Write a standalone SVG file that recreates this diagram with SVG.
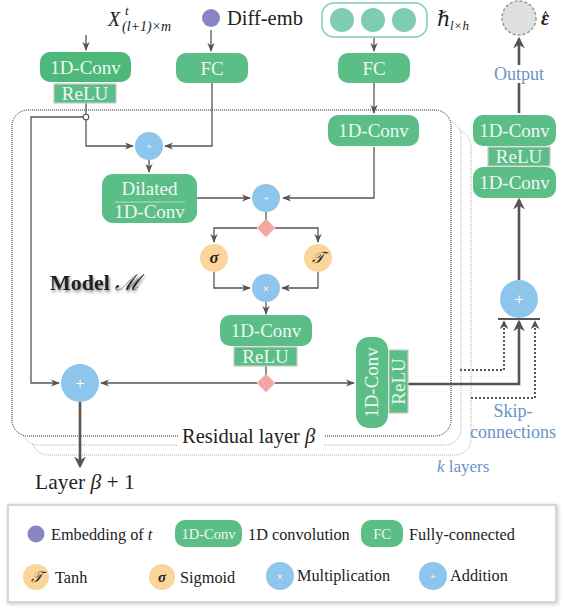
<svg xmlns="http://www.w3.org/2000/svg" width="563" height="611" viewBox="0 0 563 611">
<defs>
<style>
.t{font-family:"Liberation Serif","DejaVu Serif",serif;fill:#222}
.bt{font-family:"Liberation Serif","DejaVu Serif",serif;fill:#eef8f1;font-size:19px;text-anchor:middle}
.bl{font-family:"Liberation Serif","DejaVu Serif",serif;fill:#6a93c8}
.box{fill:#5bbe87}
.box2{fill:#4cb87a}
.relu{fill:#5bbe87;stroke:#c8c8c8;stroke-width:1.2}
.add{fill:#8ec5ec}
.act{fill:#fcd59a}
.dia{fill:#f4a6a3}
.c{fill:none;stroke:#555;stroke-width:1.3}
.ck{fill:none;stroke:#555;stroke-width:2.6}
.cd{fill:none;stroke:#555;stroke-width:2;stroke-dasharray:2,2}
.fr{fill:#fff;stroke:#aaa;stroke-width:1;stroke-dasharray:1,1}
.fr1{fill:#fff;stroke:#222;stroke-width:1;stroke-dasharray:1,1}
.sym{font-family:"Liberation Serif","DejaVu Serif",serif;fill:#fff;text-anchor:middle}
</style>
<marker id="a" viewBox="0 0 10 10" refX="9" refY="5" markerWidth="7" markerHeight="7" orient="auto-start-reverse"><path d="M0,1 L10,5 L0,9 L3,5 z" fill="#555"/></marker>
<marker id="ak" viewBox="0 0 10 10" refX="8" refY="5" markerWidth="4.5" markerHeight="4.5" orient="auto-start-reverse"><path d="M0,0 L10,5 L0,10 L3,5 z" fill="#555"/></marker>
<filter id="sh" x="-10%" y="-30%" width="120%" height="160%"><feGaussianBlur in="SourceAlpha" stdDeviation="1.5"/><feOffset dx="1" dy="2"/><feComponentTransfer><feFuncA type="linear" slope="0.5"/></feComponentTransfer><feMerge><feMergeNode/><feMergeNode in="SourceGraphic"/></feMerge></filter>
<filter id="lsh" x="-5%" y="-10%" width="110%" height="120%"><feGaussianBlur in="SourceAlpha" stdDeviation="2"/><feOffset dx="1" dy="1"/><feComponentTransfer><feFuncA type="linear" slope="0.25"/></feComponentTransfer><feMerge><feMergeNode/><feMergeNode in="SourceGraphic"/></feMerge></filter>
</defs>
<rect width="563" height="611" fill="#fff"/>

<!-- residual layer frames -->
<g id="frames">
<rect class="fr" x="32" y="130" width="439" height="325" rx="16"/>
<rect class="fr" x="22" y="120" width="439" height="325" rx="16"/>
<rect class="fr1" x="12" y="110" width="439" height="326" rx="16"/>
<rect x="178" y="424" width="146" height="22" fill="#fff"/>
<text class="t" x="182" y="443" font-size="20.5">Residual layer <tspan font-style="italic">β</tspan></text>
<text class="bl" x="437" y="472" font-size="17"><tspan font-style="italic">k</tspan> layers</text>
</g>

<!-- connectors -->
<g id="connectors">
<line class="c" x1="86" y1="35" x2="86" y2="50" marker-end="url(#a)"/>
<line class="c" x1="211" y1="30" x2="211" y2="51" marker-end="url(#a)"/>
<line class="c" x1="374" y1="38" x2="374" y2="51" marker-end="url(#a)"/>
<polyline class="c" points="86,103 86,146 133,146" marker-end="url(#a)"/>
<polyline class="c" points="86,117 31,117 31,383 59,383" marker-end="url(#a)"/>
<polyline class="c" points="212,83 212,146 165,146" marker-end="url(#a)"/>
<line class="c" x1="374" y1="83" x2="374" y2="113" marker-end="url(#a)"/>
<line class="c" x1="149" y1="160" x2="149" y2="172" marker-end="url(#a)"/>
<line class="c" x1="197" y1="198" x2="250" y2="198" marker-end="url(#a)"/>
<polyline class="c" points="374,147 374,198 283,198" marker-end="url(#a)"/>
<line class="c" x1="266" y1="212" x2="266" y2="220"/>
<polyline class="c" points="257,228 214,228 214,242" marker-end="url(#a)"/>
<polyline class="c" points="275,228 318,228 318,242" marker-end="url(#a)"/>
<polyline class="c" points="214,272 214,288 250,288" marker-end="url(#a)"/>
<polyline class="c" points="318,272 318,288 282,288" marker-end="url(#a)"/>
<line class="c" x1="266" y1="302" x2="266" y2="314" marker-end="url(#a)"/>
<line class="c" x1="266" y1="366" x2="266" y2="375"/>
<line class="c" x1="257" y1="383" x2="101" y2="383" marker-end="url(#a)"/>
<line class="c" x1="275" y1="383" x2="354" y2="383" marker-end="url(#a)"/>
<line class="ck" x1="80" y1="402" x2="80" y2="466" marker-end="url(#ak)"/>
<polyline class="ck" points="408,384 519,384 519,322" marker-end="url(#ak)"/>
<polyline class="cd" points="460,370 504,370 504,322" marker-end="url(#ak)"/>
<polyline class="cd" points="471,398 535,398 535,322" marker-end="url(#ak)"/>
<line x1="498" y1="319" x2="540" y2="319" stroke="#555" stroke-width="2"/>
<line class="ck" x1="519" y1="280" x2="519" y2="200" marker-end="url(#ak)"/>
<line class="ck" x1="519" y1="113" x2="519" y2="39" marker-end="url(#ak)"/>
<circle cx="86" cy="117" r="2.8" fill="#fff" stroke="#555" stroke-width="1.1"/>
</g>

<!-- inputs -->
<g id="input-x">
<text class="t" x="108" y="26" font-size="20" font-style="italic">X</text>
<text class="t" x="125" y="15" font-size="13" font-style="italic">t</text>
<text class="t" x="122" y="31" font-size="14" font-style="italic">(l+1)×m</text>
</g>
<g id="diff-emb">
<circle cx="211" cy="18" r="9" fill="#8985c5"/>
<text class="t" x="227" y="25" font-size="20.5">Diff-emb</text>
</g>
<g id="hidden">
<rect x="322" y="3" width="105" height="34" rx="12" fill="#fff" stroke="#80ccba" stroke-width="1.5"/>
<circle cx="342" cy="20" r="12" fill="#7fccb4"/>
<circle cx="373" cy="20" r="12" fill="#7fccb4"/>
<circle cx="404" cy="20" r="12" fill="#7fccb4"/>
<text class="t" x="437" y="26" font-size="21" font-style="italic">ℏ</text>
<text class="t" x="450" y="30" font-size="13" font-style="italic">l×h</text>
</g>
<g id="output">
<circle cx="519" cy="18" r="17" fill="#e0e0e0" stroke="#999" stroke-width="1.5" stroke-dasharray="3,2"/>
<text class="t" x="541" y="25" font-size="20" font-weight="bold" font-style="italic">ε<tspan dx="-7.5" dy="-6" font-size="13" font-style="normal">^</tspan></text>
<rect x="508" y="65" width="22" height="18" fill="#fff"/>
<text class="bl" x="519" y="80" font-size="18" text-anchor="middle">Output</text>
</g>

<!-- top boxes -->
<g id="conv-in">
<rect class="box2" x="40" y="52" width="91" height="30" rx="10"/>
<text class="bt" x="85.5" y="74">1D-Conv</text>
<rect class="relu" x="54" y="84" width="62" height="19"/>
<text class="bt" x="85" y="100">ReLU</text>
</g>
<g id="fc-emb">
<rect class="box" x="176" y="53" width="72" height="30" rx="10"/>
<text class="bt" x="212" y="75">FC</text>
</g>
<g id="fc-h">
<rect class="box" x="338" y="53" width="72" height="30" rx="10"/>
<text class="bt" x="374" y="75">FC</text>
</g>
<g id="conv-h">
<rect class="box" x="328" y="115" width="91" height="31" rx="10"/>
<text class="bt" x="373.5" y="137">1D-Conv</text>
</g>

<g id="add1"><circle class="add" cx="149" cy="146" r="14"/><text class="sym" x="149" y="150" font-size="11">+</text></g>
<g id="dilated">
<rect class="box" x="102" y="174" width="95" height="49" rx="11"/>
<text class="bt" x="149.5" y="195">Dilated</text>
<line x1="115" y1="202" x2="185" y2="202" stroke="#c9ead5" stroke-width="0.8"/>
<text class="bt" x="149.5" y="218">1D-Conv</text>
</g>
<g id="add2"><circle class="add" cx="266" cy="198" r="14"/><text class="sym" x="266" y="202" font-size="11">+</text></g>
<g id="split1"><rect class="dia" x="259.5" y="221.5" width="13" height="13" transform="rotate(45 266 228)"/></g>
<g id="sigmoid"><circle class="act" cx="214" cy="258" r="14"/><text x="214" y="263" font-size="17" font-weight="bold" font-style="italic" text-anchor="middle" class="t">σ</text></g>
<g id="tanh"><circle class="act" cx="318" cy="258" r="14"/><text x="318" y="263" font-size="16" font-style="italic" text-anchor="middle" class="t">𝒯</text></g>
<g id="mul"><circle class="add" cx="266" cy="288" r="14"/><text class="sym" x="266" y="292.5" font-size="13">×</text></g>
<g id="conv-mid">
<rect class="box" x="220" y="315" width="92" height="31" rx="10"/>
<text class="bt" x="266" y="337">1D-Conv</text>
<rect class="relu" x="234" y="347" width="63" height="19"/>
<text class="bt" x="265.5" y="363">ReLU</text>
</g>
<g id="split2"><rect class="dia" x="259.5" y="376.5" width="13" height="13" transform="rotate(45 266 383)"/></g>
<g id="add-res"><circle class="add" cx="80" cy="383" r="19"/><text class="sym" x="80" y="389" font-size="17">+</text></g>
<g id="conv-skip">
<rect class="box" x="356" y="337" width="32" height="91" rx="13"/>
<text class="bt" transform="translate(378 382.5) rotate(-90)">1D-Conv</text>
<rect class="relu" x="389" y="350" width="19" height="63"/>
<text class="bt" transform="translate(405 381.5) rotate(-90)">ReLU</text>
</g>
<g id="model-label" filter="url(#sh)">
<text class="t" x="50" y="290" font-size="22" font-weight="bold">Model <tspan font-style="italic" font-weight="normal">ℳ</tspan></text>
</g>
<g id="next-layer"><text class="t" x="35" y="489" font-size="21.5">Layer <tspan font-style="italic">β</tspan> + 1</text></g>

<!-- right output head -->
<g id="add-skip"><circle class="add" cx="519" cy="299" r="19"/><text class="sym" x="519" y="305" font-size="17">+</text></g>
<g id="out-head">
<rect class="box" x="473" y="115" width="83" height="31" rx="10"/>
<text class="bt" x="514.5" y="137">1D-Conv</text>
<rect class="relu" x="488" y="147" width="62" height="19"/>
<text class="bt" x="519" y="163">ReLU</text>
<rect class="box" x="473" y="167" width="83" height="31" rx="10"/>
<text class="bt" x="514.5" y="189">1D-Conv</text>
</g>
<g id="skip-label">
<text class="bl" x="513" y="417" font-size="18" text-anchor="middle">Skip-</text>
<text class="bl" x="513" y="438" font-size="18" text-anchor="middle">connections</text>
</g>

<!-- legend -->
<g id="legend">
<rect x="8" y="505" width="548" height="97" fill="#fff" stroke="#ccc" stroke-width="1.5" filter="url(#lsh)"/>
<circle cx="36" cy="534" r="8.5" fill="#8985c5"/>
<text class="t" x="51" y="540" font-size="16.3">Embedding of <tspan font-style="italic">t</tspan></text>
<rect class="box" x="175" y="520" width="67" height="27" rx="10"/>
<text class="bt" x="208.5" y="538.5" style="font-size:14.5px">1D-Conv</text>
<text class="t" x="248" y="540" font-size="16.3">1D convolution</text>
<rect class="box" x="361" y="520" width="42" height="27" rx="10"/>
<text class="bt" x="382" y="538.5" style="font-size:14.5px">FC</text>
<text class="t" x="409" y="540" font-size="16.3">Fully-connected</text>
<circle class="act" cx="36" cy="577" r="13"/>
<text class="t" x="36" y="582" font-size="15" font-style="italic" text-anchor="middle">𝒯</text>
<text class="t" x="55" y="583" font-size="16.3">Tanh</text>
<circle class="act" cx="162" cy="577" r="13"/>
<text class="t" x="162" y="582" font-size="15" font-weight="bold" font-style="italic" text-anchor="middle">σ</text>
<text class="t" x="180" y="583" font-size="16.3">Sigmoid</text>
<circle class="add" cx="280" cy="576" r="14"/>
<text class="sym" x="280" y="581" font-size="12">×</text>
<text class="t" x="297" y="581" font-size="16.3">Multiplication</text>
<circle class="add" cx="433" cy="576" r="14"/>
<text class="sym" x="433" y="580" font-size="10">+</text>
<text class="t" x="450" y="581" font-size="16.3">Addition</text>
</g>
</svg>
